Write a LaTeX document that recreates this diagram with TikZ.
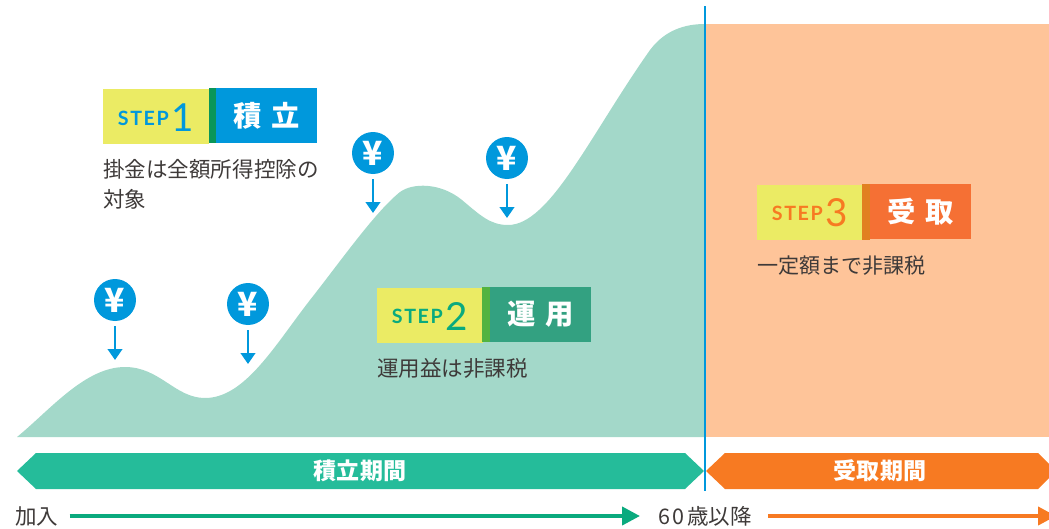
\documentclass[tikz,border=0pt]{standalone}
\usepackage{fontspec}
\setmainfont{Noto Sans CJK JP}
\newfontfamily\stepfont[LetterSpace=8]{Lato}
\newfontfamily\numfont{Lato}
\usetikzlibrary{arrows.meta}

\definecolor{montana}{HTML}{A3D8C9}
\definecolor{durazno}{HTML}{FEC499}
\definecolor{azul}{HTML}{0098DC}
\definecolor{amarillo}{HTML}{EBEB64}
\definecolor{verde}{HTML}{25BC9A}
\definecolor{verdeflecha}{HTML}{0AAA7E}
\definecolor{naranja}{HTML}{F77A22}
\definecolor{texto}{HTML}{3E3A39}
\definecolor{junta1}{HTML}{0A9658}
\definecolor{junta2}{HTML}{52B340}
\definecolor{junta3}{HTML}{E18020}
\definecolor{caja2}{HTML}{33A181}
\definecolor{caja3}{HTML}{F57034}

\tikzset{
  cuerpo/.style={inner sep=0pt, text=texto, font=\fontsize{12.25}{16.6}\selectfont},
  etiqueta/.style={inner sep=0pt, text=white, font=\fontsize{13.1}{14}\selectfont\bfseries},
  pasobox/.style={inner sep=0pt, anchor=north west, minimum width=2.02cm, minimum height=1.1cm, fill=#1, text=white, font=\fontsize{16.1}{18}\selectfont\bfseries},
  amarillobox/.style={inner sep=0pt, anchor=north west, minimum width=2.12cm, minimum height=1.1cm, fill=amarillo},
  yenmark/.style={circle, fill=azul, minimum size=0.84cm, inner sep=0pt, text=white, font=\fontsize{19}{20}\selectfont\bfseries},
  yenflecha/.style={azul, line width=0.05cm, -{Triangle[length=0.22cm,width=0.29cm]}, shorten <=0.1cm}
}

\newcommand{\pasotexto}[2]{\textcolor{#1}{\raisebox{0.13cm}{\fontsize{11.2}{12}\selectfont\stepfont\bfseries STEP}\hspace{0.06cm}\fontsize{22}{23}\selectfont\numfont #2}}

\begin{document}
\begin{tikzpicture}[x=0.02cm, y=-0.02cm]
  \clip (0,0) rectangle (1049,528);

  % Fondos
  \fill[durazno] (705,24) rectangle (1049,437);
  \fill[montana] (17,437) .. controls (50,410) and (85,367) .. (125,367)
    .. controls (160,367) and (175,398) .. (205,398)
    .. controls (245,398) and (275,345) .. (310,300)
    .. controls (340,262) and (375,212) .. (400,192)
    .. controls (412,183) and (440,182) .. (462,200)
    .. controls (480,215) and (490,225) .. (508,225)
    .. controls (550,225) and (590,135) .. (650,50)
    .. controls (665,30) and (685,24) .. (705,24)
    -- (705,437) -- cycle;

  % Bandas de periodos
  \fill[verde] (17,471) -- (36,453) -- (685,453) -- (704,471) -- (685,489) -- (36,489) -- cycle;
  \fill[naranja] (706,471) -- (725,453) -- (1038,453) -- (1056,471) -- (1038,489) -- (725,489) -- cycle;
  \node[etiqueta] (periodo1) at (360,471) {積立期間};
  \node[etiqueta] (periodo2) at (880,471) {受取期間};

  % Linea de los 60
  \coordinate (lineasup) at (705,6);
  \coordinate (lineainf) at (705,491);
  \draw[azul, line width=0.03cm] (lineasup) -- (lineainf);

  % Paso 1
  \node[amarillobox] (paso1) at (103,89) {};
  \node[anchor=center, inner sep=0pt] (num1) at (156,118) {\pasotexto{azul}{1}};
  \fill[junta1] (209,88) rectangle (216,143);
  \node[pasobox=azul] (box1) at (216,88) {積\hspace{0.2cm}立};
  \node[cuerpo, anchor=north west, align=left] (nota1) at (103,159.5) {掛金は全額所得控除の\\対象};

  % Paso 2
  \node[amarillobox] (paso2) at (377,287.5) {};
  \node[anchor=center, inner sep=0pt] (num2) at (430,316) {\pasotexto{verdeflecha}{2}};
  \fill[junta2] (482,287) rectangle (490,342);
  \node[pasobox=caja2] (box2) at (490,286.5) {運\hspace{0.2cm}用};
  \node[cuerpo, anchor=north west] (nota2) at (377,358.5) {運用益は非課税};

  % Paso 3
  \node[amarillobox] (paso3) at (757,184.5) {};
  \node[anchor=center, inner sep=0pt] (num3) at (810,213) {\pasotexto{naranja}{3}};
  \fill[junta3] (862,184) rectangle (870,239.5);
  \node[pasobox=caja3] (box3) at (870,183.5) {受\hspace{0.2cm}取};
  \node[cuerpo, anchor=north west, font=\fontsize{12}{16}\selectfont] (nota3) at (757,255.5) {一定額まで非課税};

  % Aportes
  \node[yenmark] (yen1) at (115,300) {¥};
  \node[yenmark] (yen2) at (248,304) {¥};
  \node[yenmark] (yen3) at (373,153) {¥};
  \node[yenmark] (yen4) at (507,158) {¥};
  \coordinate (punta1) at (115,360);
  \coordinate (punta2) at (248,364);
  \coordinate (punta3) at (373,213);
  \coordinate (punta4) at (507,218);
  \draw[yenflecha] (yen1) -- (punta1);
  \draw[yenflecha] (yen2) -- (punta2);
  \draw[yenflecha] (yen3) -- (punta3);
  \draw[yenflecha] (yen4) -- (punta4);

  % Eje de edades
  \node[cuerpo, anchor=west] (kanyu) at (15,516) {加入};
  \node[cuerpo, anchor=west] (edad60) at (658,516) {6\hspace{0.05cm}0\hspace{0.05cm}歳以降};
  \coordinate (finorange) at (1056,516);
  \draw[verdeflecha, line width=0.08cm, -{Triangle[length=0.36cm,width=0.36cm]}, shorten <=0.22cm, shorten >=0.36cm] (kanyu) -- (edad60);
  \draw[naranja, line width=0.08cm, -{Triangle[length=0.36cm,width=0.36cm]}, shorten <=0.32cm] (edad60) -- (finorange);
\end{tikzpicture}
\end{document}
